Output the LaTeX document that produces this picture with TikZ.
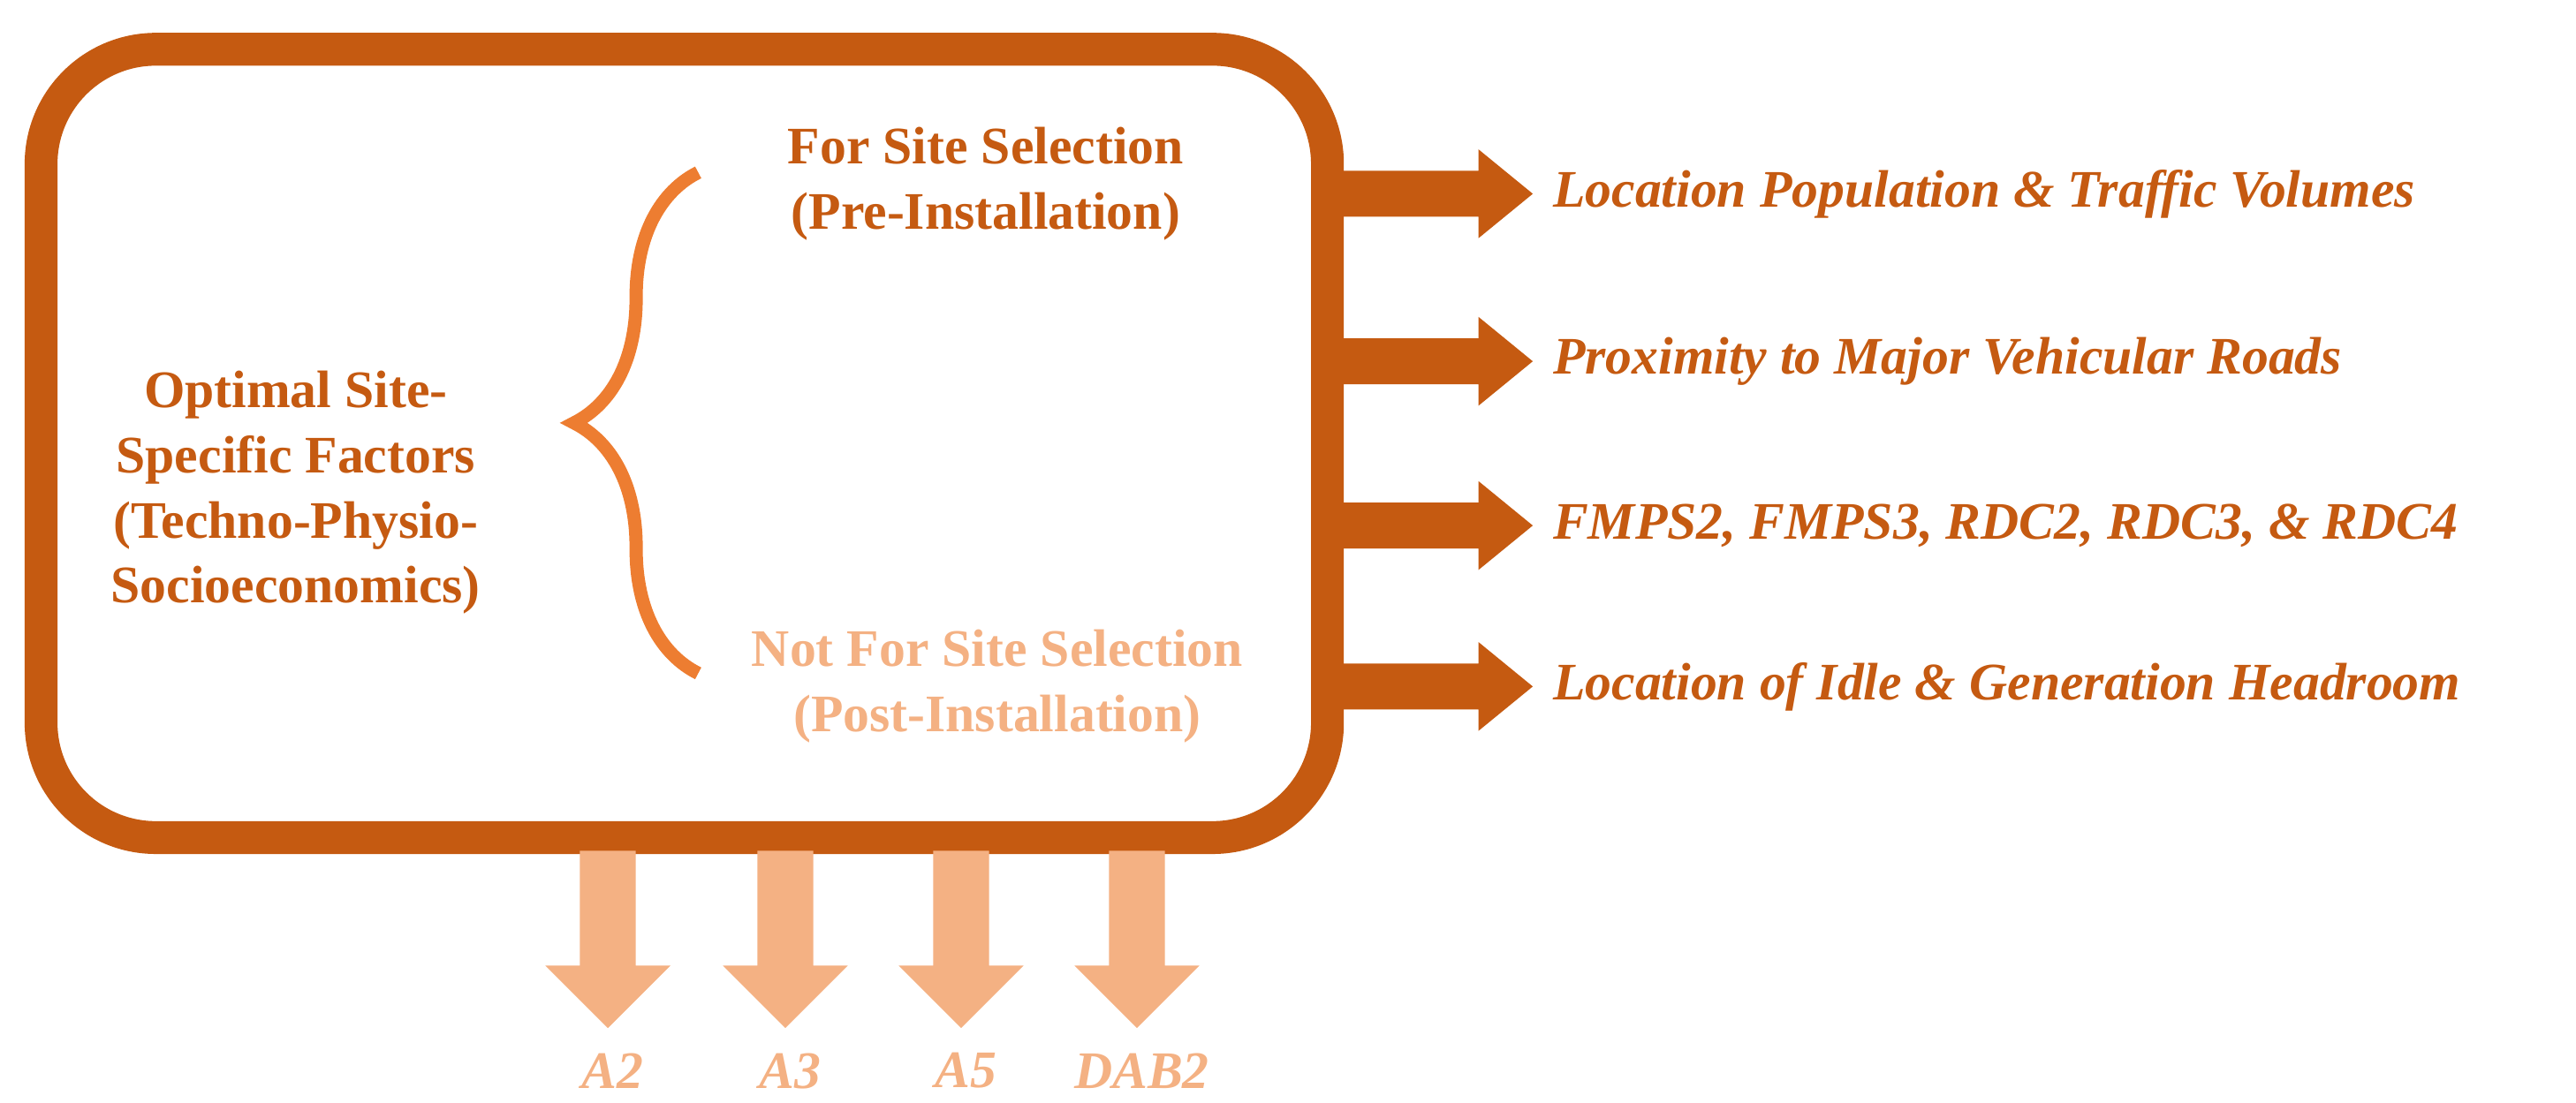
\documentclass[tikz,border=0pt]{standalone}
\usepackage{fontspec}
\setmainfont{Liberation Serif}
\usetikzlibrary{decorations.pathreplacing}
\definecolor{dk}{HTML}{C55A11}
\definecolor{md}{HTML}{ED7D31}
\definecolor{lt}{HTML}{F4B183}
\begin{document}
\begin{tikzpicture}[x=0.0186cm,y=-0.0186cm,
  lab/.style={font=\fontsize{17}{21}\selectfont\bfseries\itshape,text=dk,anchor=west,inner sep=0},
  ctr/.style={font=\fontsize{17}{21}\selectfont\bfseries,align=center,inner sep=0},
  rarr/.style={fill=dk},
  barr/.style={fill=lt}]
\useasboundingbox (0,0) rectangle (1568,671.5);
\draw[dk,line width=0.372cm,rounded corners=1.3cm] (25,30) rectangle (808,510);
\foreach \yy/\t [count=\i] in {118/Location Population \& Traffic Volumes,220/Proximity to Major Vehicular Roads,320/{FMPS2, FMPS3, RDC2, RDC3, \& RDC4},418/Location of Idle \& Generation Headroom}{
  \fill[rarr] (815,\yy-14) -- (900,\yy-14) -- (900,\yy-27) -- (933,\yy) -- (900,\yy+27) -- (900,\yy+14) -- (815,\yy+14) -- cycle;
  \node[lab] (r\i) at (945,\yy) {\t};
}
\foreach \xx/\t [count=\i] in {370/A2,478/A3,585/A5,692/DAB2}{
  \fill[barr] (\xx-17,518) -- (\xx+17,518) -- (\xx+17,588) -- (\xx+38,588) -- (\xx,626) -- (\xx-38,588) -- (\xx-17,588) -- cycle;
  \node[lab,anchor=center,text=lt] (b\i) at (\xx+3,652) {\t};
}
\node[ctr,text=dk] (left) at (180,300) {Optimal Site-\\Specific Factors\\(Techno-Physio-\\Socioeconomics)};
\node[ctr,text=dk] (top) at (600,112) {For Site Selection\\(Pre-Installation)};
\node[ctr,text=lt] (bot) at (607,418) {Not For Site Selection\\(Post-Installation)};
\draw[md,line width=0.15cm,decorate,decoration={brace,amplitude=40pt,aspect=0.5}] (425,410) -- (425,105);
\end{tikzpicture}
\end{document}
